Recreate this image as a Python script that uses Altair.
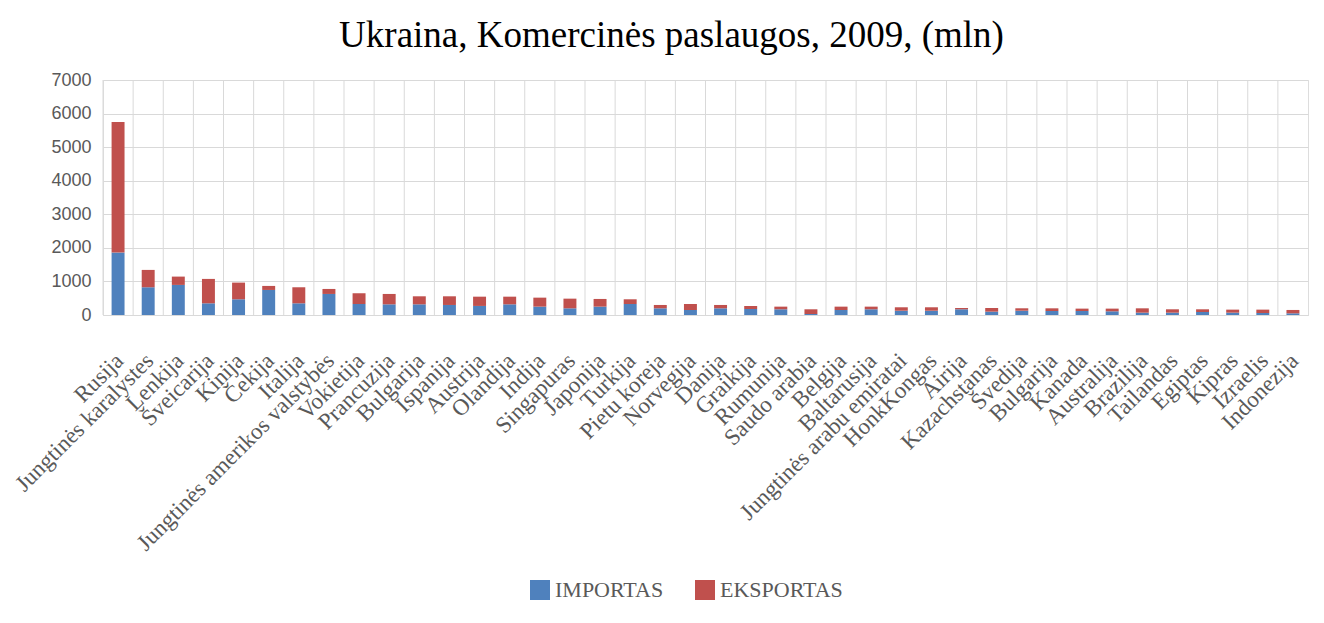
import json
import altair as alt
import pandas as pd

countries = [
    "Rusija", "Jungtinės karalystes", "Lenkija", "Šveicarija", "Kinija", "Čekija",
    "Italija", "Jungtinės amerikos valstybės", "Vokietija", "Prancuzija", "Bulgarija",
    "Ispanija", "Austrija", "Olandija", "Indija", "Singapuras", "Japonija", "Turkija",
    "Pietu koreja", "Norvegija", "Danija", "Graikija", "Rumunija", "Saudo arabia",
    "Belgija", "Baltarusija", "Jungtinės arabu emiratai", "HonkKongas", "Airija",
    "Kazachstanas", "Švedija", "Bulgarija", "Kanada", "Australija", "Brazilija",
    "Tailandas", "Egiptas", "Kipras", "Izraelis", "Indonezija",
]
importas = [1860, 826, 896, 348, 468, 746, 348, 627, 328, 318, 318, 299, 270, 318,
            249, 199, 249, 328, 199, 149, 199, 179, 170, 30, 149, 170, 128, 128,
            170, 100, 128, 119, 119, 110, 70, 70, 90, 70, 60, 50]
eksportas = [3892, 517, 248, 727, 497, 120, 478, 149, 319, 309, 239, 258, 276, 228,
             268, 288, 229, 140, 100, 179, 100, 90, 79, 140, 100, 79, 102, 102,
             39, 109, 72, 80, 71, 80, 129, 100, 80, 90, 100, 100]
series = ["IMPORTAS", "EKSPORTAS"]
colors = ["#4F81BD", "#C0504D"]
y_ticks = [0, 1000, 2000, 3000, 4000, 5000, 6000, 7000]

rows = []
for i, (c, im, ex) in enumerate(zip(countries, importas, eksportas)):
    rows.append({"idx": i, "country": c, "series": series[0], "value": im, "ord": 0})
    rows.append({"idx": i, "country": c, "series": series[1], "value": ex, "ord": 1})
df = pd.DataFrame(rows)
n = len(countries)
edges = pd.DataFrame({"edge": list(range(n))})

W, H = 1205, 235
GRID = "#d9d9d9"
TXT = "#595959"
label_expr = json.dumps(countries, ensure_ascii=False) + "[datum.value]"

grid = alt.Chart(edges).mark_rule(color=GRID, strokeWidth=1).encode(
    x=alt.X("edge:Q", scale=alt.Scale(domain=[0, n], nice=False, zero=False), axis=None),
    y=alt.value(0),
    y2=alt.value(H),
)

bars = alt.Chart(df).mark_bar().encode(
    x=alt.X(
        "idx:O",
        scale=alt.Scale(paddingInner=0.57, paddingOuter=0.285),
        axis=alt.Axis(
            labelExpr=label_expr, labelAngle=-45, labelAlign="right", labelBaseline="top",
            labelPadding=34, labelOffset=-6, labelFont="Liberation Serif", labelFontSize=23,
            labelColor=TXT, ticks=False, domainColor=GRID, grid=False, title=None,
            labelOverlap=False, labelLimit=0,
        ),
    ),
    y=alt.Y(
        "value:Q",
        stack="zero",
        scale=alt.Scale(domain=[0, 7000], nice=False),
        axis=alt.Axis(
            values=y_ticks, format="d", grid=True, gridColor=GRID, domain=False, ticks=False,
            labelFont="Liberation Sans", labelFontSize=18, labelColor=TXT,
            labelPadding=12, title=None,
        ),
    ),
    color=alt.Color(
        "series:N",
        scale=alt.Scale(domain=series, range=colors),
        legend=alt.Legend(
            orient="none", legendX=426, legendY=499, direction="horizontal", title=None,
            symbolType="square", symbolSize=400, symbolStrokeWidth=0,
            labelFont="Liberation Serif", labelFontSize=22, labelColor=TXT,
            labelOffset=4, columnPadding=30,
        ),
    ),
    order=alt.Order("ord:Q"),
)

chart = alt.layer(grid, bars).resolve_scale(x="independent").properties(
    width=W,
    height=H,
    title=alt.TitleParams(
        "Ukraina, Komercinės paslaugos, 2009, (mln)",
        font="Liberation Serif", fontSize=37, fontWeight="normal", color="#000000",
        anchor="middle", offset=16, dx=-34,
    ),
    autosize=alt.AutoSizeParams(type="none"),
    padding={"left": 95, "top": 72, "right": 8, "bottom": 290},
).configure_view(stroke="transparent", strokeWidth=0).configure(background="white")

chart.save("out.html", embed_options={"renderer": "svg", "actions": False})
